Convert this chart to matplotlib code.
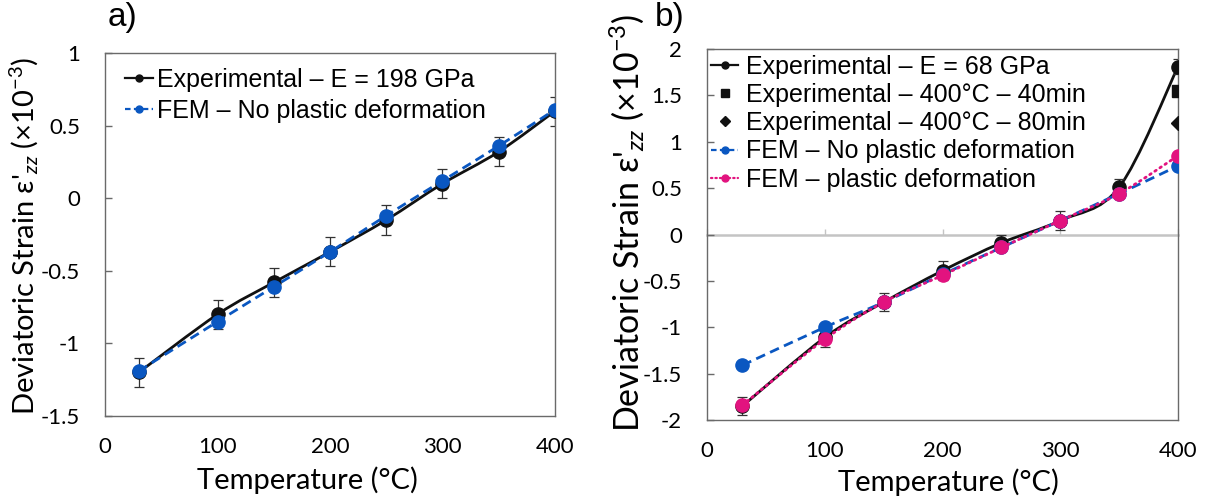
import numpy as np
import matplotlib
matplotlib.use("Agg")
import matplotlib.pyplot as plt
from matplotlib.path import Path
from matplotlib.patches import PathPatch
from matplotlib.lines import Line2D

# ---- panel a: steel, E = 198 GPa ----
temp_a = [30, 100, 150, 200, 250, 300, 350, 400]
exp_a = [-1.20, -0.80, -0.58, -0.37, -0.15, 0.10, 0.32, 0.60]
exp_a_err = [0.10, 0.10, 0.10, 0.10, 0.10, 0.10, 0.10, 0.10]
fem_a = [-1.19, -0.85, -0.61, -0.37, -0.12, 0.12, 0.36, 0.61]

# ---- panel b: aluminium, E = 68 GPa ----
temp_b = [30, 100, 150, 200, 250, 300, 350, 400]
exp_b = [-1.85, -1.11, -0.73, -0.39, -0.09, 0.15, 0.51, 1.81]
exp_b_err = [0.10, 0.10, 0.10, 0.10, 0.09, 0.10, 0.09, 0.08]
hold_temp = [400]
hold_40min = [1.55]
hold_80min = [1.20]
fem_b_elastic = [-1.41, -1.00, -0.73, -0.43, -0.14, 0.15, 0.44, 0.74]
fem_b_plastic = [-1.84, -1.13, -0.73, -0.44, -0.14, 0.15, 0.44, 0.85]

x_ticks = [0, 100, 200, 300, 400]
y_ticks_a = [-1.5, -1, -0.5, 0, 0.5, 1]
y_ticks_b = [-2, -1.5, -1, -0.5, 0, 0.5, 1, 1.5, 2]

BLACK = "#111111"
BLUE = "#0a57c1"
PINK = "#e2137f"
SPINE = "#6a6a6a"
ERR = "#333333"

plt.rcParams["mathtext.fontset"] = "custom"
plt.rcParams["mathtext.rm"] = "Lato"
plt.rcParams["mathtext.it"] = "Lato:italic"
plt.rcParams["mathtext.bf"] = "Lato:bold"

TICK_FONT = dict(family=["Lato", "DejaVu Sans"], size=16)
LABEL_FAMILY = ["Lato", "DejaVu Sans"]
LEGEND_FONT = dict(family="Liberation Sans", size=18)


def smooth_path(x, y):
    """Bezier path through the points, Catmull-Rom style (spreadsheet 'smoothed line')."""
    pts = np.column_stack([x, y]).astype(float)
    n = len(pts)
    verts = [pts[0]]
    codes = [Path.MOVETO]
    for i in range(n - 1):
        p0 = pts[max(i - 1, 0)]
        p1 = pts[i]
        p2 = pts[i + 1]
        p3 = pts[min(i + 2, n - 1)]
        verts += [p1 + (p2 - p0) / 6.0, p2 - (p3 - p1) / 6.0, p2]
        codes += [Path.CURVE4] * 3
    return Path(verts, codes)


def add_curve(ax, x, y, color, lw, ls, z, cap="butt"):
    patch = PathPatch(smooth_path(x, y), facecolor="none", edgecolor=color,
                      lw=lw, linestyle=ls, zorder=z, capstyle=cap)
    ax.add_patch(patch)


def style_axes(ax, ylim, yticks):
    ax.set_xlim(0, 400)
    ax.set_ylim(*ylim)
    ax.set_xticks(x_ticks)
    ax.set_yticks(yticks)
    ax.set_xticklabels([f"{t:g}" for t in x_ticks], fontdict=TICK_FONT)
    ax.set_yticklabels([f"{t:g}" for t in yticks], fontdict=TICK_FONT)
    for sp in ax.spines.values():
        sp.set_color(SPINE)
        sp.set_linewidth(1.0)
    ax.tick_params(axis="y", direction="in", length=5, width=1.0, color=SPINE, pad=18)
    ax.tick_params(axis="x", length=0, pad=15)


DASH = (0, (3.5, 2.0))
DOT = (0, (0.6, 1.6))

fig = plt.figure(figsize=(12.07, 4.99), dpi=100)
ax_a = fig.add_axes([0.0870, 0.1663, 0.3728, 0.7275])
ax_b = fig.add_axes([0.5858, 0.1583, 0.3902, 0.7435])

# ---------------- panel a ----------------
style_axes(ax_a, (-1.5, 1.0), y_ticks_a)
add_curve(ax_a, temp_a, exp_a, BLACK, 2.0, "-", 2)
ax_a.errorbar(temp_a, exp_a, yerr=exp_a_err, fmt="none", ecolor=ERR,
              elinewidth=0.9, capsize=3.5, capthick=0.9, zorder=2.5)
ax_a.plot(temp_a, exp_a, "o", ms=9.5, color=BLACK, zorder=3)
add_curve(ax_a, temp_a, fem_a, BLUE, 2.0, DASH, 4)
ax_a.plot(temp_a, fem_a, "o", ms=9.5, color=BLUE, zorder=5)

handles_a = [
    Line2D([], [], color=BLACK, lw=1.6, marker="o", ms=5),
    Line2D([], [], color=BLUE, lw=1.6, ls=(0, (2.5, 1.5)), marker="o", ms=5),
]
ax_a.legend(handles_a, ["Experimental \u2013 E = 198 GPa",
                        "FEM \u2013 No plastic deformation"],
            loc="upper left", bbox_to_anchor=(0.045, 0.96), frameon=False,
            prop=LEGEND_FONT, handlelength=1.1, handletextpad=0.15,
            labelspacing=0.28, borderpad=0, borderaxespad=0)

ax_a.set_xlabel("Temperature (\u00b0C)", family=LABEL_FAMILY, size=21)
ax_a.xaxis.set_label_coords(0.449, -0.138)
ax_a.set_ylabel("Deviatoric Strain \u03b5'$_{zz}$ (\u00d710$^{-3}$)",
                family=LABEL_FAMILY, size=21)
ax_a.yaxis.set_label_coords(-0.142, 0.496)

# ---------------- panel b ----------------
style_axes(ax_b, (-2.0, 2.0), y_ticks_b)

# horizontal axis line crossing at zero
zero_frac = (0 - (-2.0)) / (2.0 - (-2.0))
sec = ax_b.secondary_xaxis(zero_frac)
sec.set_alignment("bottom")
sec.set_xticks(x_ticks)
sec.tick_params(direction="in", length=4, width=1.0, color="#c4c4c4",
                labelbottom=False)
sec.spines["bottom"].set_color("#c4c4c4")
sec.spines["bottom"].set_linewidth(1.8)

add_curve(ax_b, temp_b, exp_b, BLACK, 2.0, "-", 2)
ax_b.errorbar(temp_b, exp_b, yerr=exp_b_err, fmt="none", ecolor=ERR,
              elinewidth=0.9, capsize=3.5, capthick=0.9, zorder=2.5)
ax_b.plot(temp_b, exp_b, "o", ms=9.5, color=BLACK, zorder=3)
ax_b.plot(hold_temp, hold_40min, "s", ms=9, color=BLACK, zorder=3)
ax_b.plot(hold_temp, hold_80min, "D", ms=7, color=BLACK, zorder=3)
add_curve(ax_b, temp_b, fem_b_elastic, BLUE, 2.0, DASH, 4)
ax_b.plot(temp_b, fem_b_elastic, "o", ms=9.5, color=BLUE, zorder=5)
add_curve(ax_b, temp_b, fem_b_plastic, PINK, 2.0, DOT, 6, cap="round")
ax_b.plot(temp_b, fem_b_plastic, "o", ms=9.5, color=PINK, zorder=7)

handles_b = [
    Line2D([], [], color=BLACK, lw=1.6, marker="o", ms=5),
    Line2D([], [], color=BLACK, lw=0, marker="s", ms=6),
    Line2D([], [], color=BLACK, lw=0, marker="D", ms=5.5),
    Line2D([], [], color=BLUE, lw=1.6, ls=(0, (2.5, 1.5)), marker="o", ms=5),
    Line2D([], [], color=PINK, lw=1.6, ls=(0, (0.6, 1.4)), marker="o", ms=5,
           dash_capstyle="round"),
]
ax_b.legend(handles_b, ["Experimental \u2013 E = 68 GPa",
                        "Experimental \u2013 400\u00b0C \u2013 40min",
                        "Experimental \u2013 400\u00b0C \u2013 80min",
                        "FEM \u2013 No plastic deformation",
                        "FEM \u2013 plastic deformation"],
            loc="upper left", bbox_to_anchor=(0.008, 0.985), frameon=False,
            prop=LEGEND_FONT, handlelength=1.1, handletextpad=0.3,
            labelspacing=0.17, borderpad=0, borderaxespad=0)

ax_b.set_xlabel("Temperature (\u00b0C)", family=LABEL_FAMILY, size=21)
ax_b.xaxis.set_label_coords(0.512, -0.13)
ax_b.set_ylabel("Deviatoric Strain \u03b5'$_{zz}$ (\u00d710$^{-3}$)",
                family=LABEL_FAMILY, size=24.5)
ax_b.yaxis.set_label_coords(-0.13, 0.53)

fig.text(0.0895, 0.964, "a)", family="Liberation Sans", size=24, va="center")
fig.text(0.5427, 0.964, "b)", family="Liberation Sans", size=24, va="center")

fig.savefig("out.png", dpi=100)
